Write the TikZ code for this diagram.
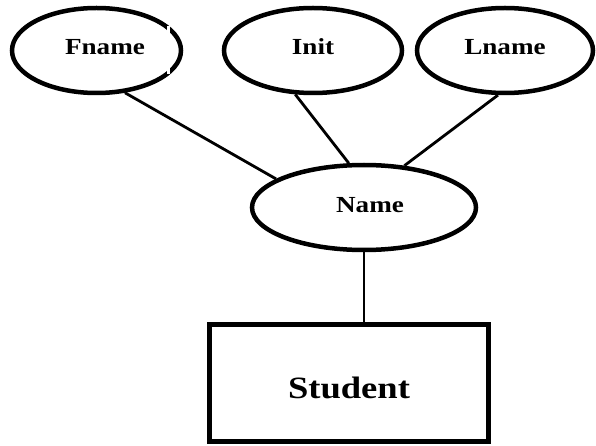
\documentclass[tikz,border=0pt]{standalone}
\usepackage{fontspec}
\setmainfont{Liberation Serif}[FakeStretch=1.18]
\usetikzlibrary{shapes.geometric}
\tikzset{
  attr/.style={draw=black, line width=4.5pt, ellipse, inner sep=0pt,
    minimum height=85pt, font=\bfseries\fontsize{23}{23}\selectfont, text depth=8pt},
  entity/.style={draw=black, line width=5.5pt, rectangle, inner sep=0pt,
    minimum width=279pt, minimum height=117pt,
    font=\bfseries\fontsize{31}{31}\selectfont, text height=30.6pt, text depth=0pt},
  link/.style={draw=black, line width=2.8pt}
}
\begin{document}
\begin{tikzpicture}[x=1pt,y=-1pt]
\useasboundingbox (0,0) rectangle (596,446);
\node[attr, minimum width=169pt] (fname) at (96.5,50.5) {\hspace*{17pt}Fname};
\node[attr, minimum width=178pt] (init) at (313,50.5) {Init};
\node[attr, minimum width=176pt] (lname) at (505,50.5) {Lname};
\node[attr, minimum width=224pt, text depth=5pt] (name) at (364,207.5) {\hspace*{12pt}Name};
\node[entity] (student) at (349,383) {Student};
\fill[white] (166.5,26.5) rectangle (170,74.5);
\draw[link] (fname.-56) -- (name.162);
\draw[link] (init.-112) -- (name.109);
\draw[link] (lname.-99) -- (name.46);
\draw[link] (name.south) -- (name.south |- student.north);
\end{tikzpicture}
\end{document}
